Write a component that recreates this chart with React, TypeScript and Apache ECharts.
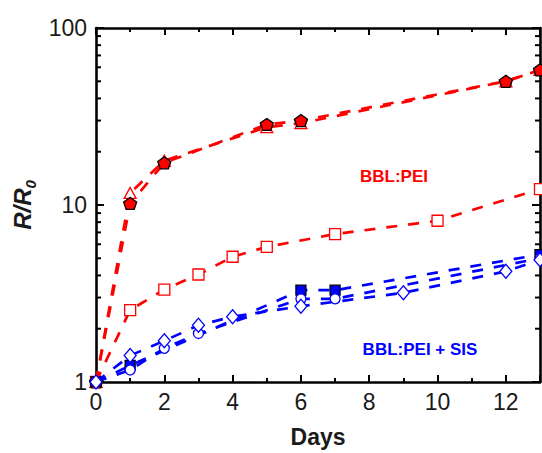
import React, { useEffect, useRef } from "react";
import * as echarts from "echarts";

// Red filled pentagons (BBL:PEI)
const pentDays = [0, 1, 2, 5, 6, 12, 13];
const pentVals = [1, 10.2, 17.3, 28.5, 30, 50, 58];
// Red open triangles (BBL:PEI)
const triDays = [0, 1, 2, 5, 6, 12, 13];
const triVals = [1, 11.7, 17.8, 27.5, 29, 50, 58];
// Red open squares
const sqRedDays = [0, 1, 2, 3, 4, 5, 7, 10, 13];
const sqRedVals = [1, 2.55, 3.33, 4.05, 5.1, 5.8, 6.85, 8.15, 12.3];
// Blue filled squares (BBL:PEI + SIS)
const sqBlueDays = [0, 1, 6, 7, 13];
const sqBlueVals = [1, 1.24, 3.3, 3.3, 5.25];
// Blue open circles
const circDays = [0, 1, 2, 3, 6, 7, 13];
const circVals = [1, 1.17, 1.55, 1.88, 2.95, 2.95, 5.0];
// Blue open diamonds
const diaDays = [0, 1, 2, 3, 4, 6, 9, 12, 13];
const diaVals = [1, 1.41, 1.71, 2.09, 2.34, 2.68, 3.19, 4.22, 4.9];

// minor log ticks
const minorTickVals = [2, 3, 4, 5, 6, 7, 8, 9, 20, 30, 40, 50, 60, 70, 80, 90];

const FONT = "'Liberation Sans', Arial, sans-serif";
const RED = "#ff0000";
const BLUE = "#0000ff";
const PENTAGON =
  "path://M0,-100 L95.1,-30.9 L58.8,80.9 L-58.8,80.9 L-95.1,-30.9 Z";

function lineSeries(
  name: string,
  days: number[],
  vals: number[],
  color: string,
  symbol: string,
  size: number | number[],
  fill: string,
  border: string,
  z: number
) {
  return {
    name,
    type: "line",
    data: days.map((d, i) => [d, vals[i]]),
    symbol,
    symbolSize: size,
    showAllSymbol: true,
    clip: false,
    z,
    itemStyle: { color: fill, borderColor: border, borderWidth: 1.3 },
    lineStyle: { color, width: 2.7, type: [11, 11] },
    emphasis: { disabled: true },
  };
}

export default function App() {
  const ref = useRef<HTMLDivElement>(null);
  useEffect(() => {
    document.body.style.margin = "0";
    const chart = echarts.init(ref.current!, null, { renderer: "svg" });
    const axisLine = { show: true, onZero: false, lineStyle: { color: "#000", width: 2.6 } };
    chart.setOption({
      animation: false,
      backgroundColor: "#fff",
      grid: { left: 96, right: 2, top: 28, bottom: 70 },
      xAxis: [
        {
          type: "value",
          min: 0,
          max: 13,
          interval: 2,
          axisLine,
          axisTick: { show: true, inside: true, length: 7, lineStyle: { width: 2, color: "#000" } },
          minorTick: { show: true, splitNumber: 2, length: 4, lineStyle: { width: 2, color: "#000" } },
          splitLine: { show: false },
          axisLabel: { fontSize: 23, color: "#1a1a1a", fontFamily: FONT, margin: 8, showMaxLabel: false },
          name: "Days",
          nameLocation: "middle",
          nameGap: 43,
          nameTextStyle: { fontSize: 23, fontWeight: "bold", color: "#1a1a1a", fontFamily: FONT },
        },
        {
          type: "value",
          position: "top",
          min: 0,
          max: 13,
          interval: 2,
          axisLine,
          axisTick: { show: true, inside: true, length: 7, lineStyle: { width: 2, color: "#000" } },
          minorTick: { show: true, splitNumber: 2, length: 4, lineStyle: { width: 2, color: "#000" } },
          splitLine: { show: false },
          axisLabel: { show: false },
        },
      ],
      yAxis: [
        {
          type: "log",
          logBase: 10,
          min: 1,
          max: 100,
          axisLine,
          axisTick: { show: true, inside: true, length: 8, lineStyle: { width: 2, color: "#000" } },
          splitLine: { show: false },
          axisLabel: { fontSize: 23, color: "#1a1a1a", fontFamily: FONT, margin: 9 },
          name: "{a|R/R}{b|0}",
          nameLocation: "middle",
          nameGap: 57,
          nameRotate: 90,
          nameTextStyle: {
            rich: {
              a: { fontSize: 24, fontWeight: "bold", fontStyle: "italic", color: "#1a1a1a", fontFamily: FONT, lineHeight: 28, verticalAlign: "bottom" },
              b: { fontSize: 15, fontWeight: "bold", fontStyle: "italic", color: "#1a1a1a", fontFamily: FONT, lineHeight: 15, verticalAlign: "bottom", padding: [0, 0, -3, 0] },
            },
          },
        },
        {
          type: "log",
          logBase: 10,
          min: 1,
          max: 100,
          position: "right",
          axisLine,
          axisTick: { show: true, inside: true, length: 8, lineStyle: { width: 2, color: "#000" } },
          splitLine: { show: false },
          axisLabel: { show: false },
        },
      ],
      graphic: [
        {
          type: "text",
          x: 394,
          y: 176,
          style: { text: "BBL:PEI", fill: RED, font: `bold 17px ${FONT}`, align: "center", verticalAlign: "middle" },
          z: 100,
        },
        {
          type: "text",
          x: 420,
          y: 349,
          style: { text: "BBL:PEI + SIS", fill: BLUE, font: `bold 17px ${FONT}`, align: "center", verticalAlign: "middle" },
          z: 100,
        },
      ],
      series: [
        {
          type: "custom",
          name: "minorTicks",
          silent: true,
          clip: false,
          z: 1,
          data: minorTickVals.map((v) => [0, v]),
          encode: { x: 0, y: 1 },
          renderItem: (params: any, api: any) => {
            const cs = params.coordSys;
            const p = api.coord([0, api.value(1)]);
            const st = { stroke: "#000", lineWidth: 2 };
            return {
              type: "group",
              children: [
                { type: "line", shape: { x1: cs.x, y1: p[1], x2: cs.x + 5, y2: p[1] }, style: st },
                { type: "line", shape: { x1: cs.x + cs.width, y1: p[1], x2: cs.x + cs.width - 5, y2: p[1] }, style: st },
              ],
            };
          },
        },
        lineSeries("sqRed", sqRedDays, sqRedVals, RED, "rect", 11, "#fff", RED, 3),
        lineSeries("tri", triDays, triVals, RED, "triangle", [12, 11], "#fff", RED, 3),
        lineSeries("pent", pentDays, pentVals, RED, PENTAGON, [13, 12], RED, "#000", 4),
        lineSeries("sqBlue", sqBlueDays, sqBlueVals, BLUE, "rect", 10, BLUE, "#000", 3),
        lineSeries("circ", circDays, circVals, BLUE, "circle", 10, "#fff", BLUE, 4),
        lineSeries("dia", diaDays, diaVals, BLUE, "diamond", [12, 14], "#fff", BLUE, 5),
      ],
    });
    return () => chart.dispose();
  }, []);
  return <div ref={ref} style={{ width: 542, height: 453 }} />;
}
